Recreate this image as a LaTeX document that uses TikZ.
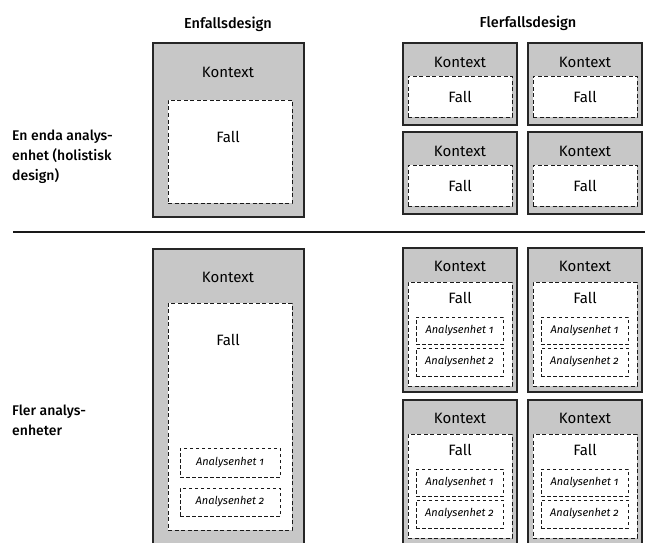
\documentclass[tikz,border=0pt]{standalone}
\usepackage{fontspec}
\setmainfont{Fira Sans}[BoldFont={Fira Sans Medium}, Numbers=OldStyle]
\usetikzlibrary{fit}
\begin{document}
\begin{tikzpicture}[x=1pt,y=-1pt,
  outer/.style={draw=black!85, line width=1.1pt, fill=black!22, inner sep=0pt, outer sep=0pt},
  inner/.style={draw=black!90, line width=1pt, dash pattern=on 4pt off 2.5pt, fill=white, inner sep=0pt, outer sep=0pt},
  unitbox/.style={draw=black!90, line width=0.9pt, dash pattern=on 3.5pt off 2.5pt, fill=white, inner sep=0pt, outer sep=0pt},
  ktxt/.style={font=\fontsize{15}{17}\selectfont, inner sep=0pt},
  utxt/.style={font=\fontsize{11}{13}\selectfont\itshape, inner sep=0pt},
  ttl/.style={font=\fontsize{14.5}{17}\selectfont\bfseries, inner sep=0pt, anchor=base},
  rowlab/.style={font=\fontsize{14}{20}\selectfont\bfseries, align=left, inner sep=0pt, anchor=north west},
  sep/.style={line width=1.4pt, draw=black!90}
]
\useasboundingbox (0,0) rectangle (645,543);
\clip (0,0) rectangle (645,543);

% titles
\node[ttl] (t1) at (228,29) {Enfallsdesign};
\node[ttl] (t2) at (528,28) {Flerfallsdesign};

% row labels
\node[rowlab] (r1) at (12,130) {En enda analys-\\enhet (holistisk\\design)};
\node[rowlab] (r2) at (12,405) {Fler analys-\\enheter};

% separator
\coordinate (hl) at (13,232);
\coordinate (hr) at (645,232);
\draw[sep] (hl) -- (hr);

% --- top-left: single case, holistic
\node[outer, fit={(153,43) (304,217)}] (A) {};
\node[inner, fit={(168,100) (292,203)}] (Af) {};
\node[ktxt] (Ak) at (228,72) {Kontext};
\node[ktxt] (Afl) at (228,137) {Fall};

% --- top-right: multiple cases, holistic
\foreach \i/\xa/\xb in {1/403/517, 2/528/642}{
  \foreach \j/\ya/\yb in {1/43/125, 2/132/214}{
    \node[outer, fit={(\xa,\ya) (\xb,\yb)}] (B\i\j) {};
    \node[inner, fit={(\xa+5,\ya+33) (\xb-5,\yb-8)}] (Bf\i\j) {};
    \node[ktxt] (Bk\i\j) at ({(\xa+\xb)/2},\ya+19) {Kontext};
    \node[ktxt] (Bfl\i\j) at ({(\xa+\xb)/2},\ya+54) {Fall};
  }
}

% --- bottom-left: single case, embedded
\node[outer, fit={(153,249) (304,550)}] (C) {};
\node[inner, fit={(168,303) (292,530)}] (Cf) {};
\node[ktxt] (Ck) at (228,277) {Kontext};
\node[ktxt] (Cfl) at (228,340) {Fall};
\node[unitbox, fit={(180,448) (280,477)}] (Cu1) {};
\node[unitbox, fit={(180,488) (280,516)}] (Cu2) {};
\node[utxt] (Cu1t) at (Cu1.center) {Analysenhet 1};
\node[utxt] (Cu2t) at (Cu2.center) {Analysenhet 2};

% --- bottom-right: multiple cases, embedded
\foreach \i/\xa/\xb in {1/403/517, 2/528/642}{
  \foreach \j/\ya in {1/248, 2/400}{
    \node[outer, fit={(\xa,\ya) (\xb,\ya+144)}] (D\i\j) {};
    \node[inner, fit={(\xa+5,\ya+34) (\xb-5,\ya+138)}] (Df\i\j) {};
    \node[ktxt] (Dk\i\j) at ({(\xa+\xb)/2},\ya+18) {Kontext};
    \node[ktxt] (Dfl\i\j) at ({(\xa+\xb)/2},\ya+50) {Fall};
    \node[unitbox, fit={(\xa+13,\ya+69) (\xb-14,\ya+96)}] (Du1\i\j) {};
    \node[unitbox, fit={(\xa+13,\ya+100) (\xb-14,\ya+128)}] (Du2\i\j) {};
    \node[utxt] at (Du1\i\j.center) {Analysenhet 1};
    \node[utxt] at (Du2\i\j.center) {Analysenhet 2};
  }
}
\end{tikzpicture}
\end{document}
